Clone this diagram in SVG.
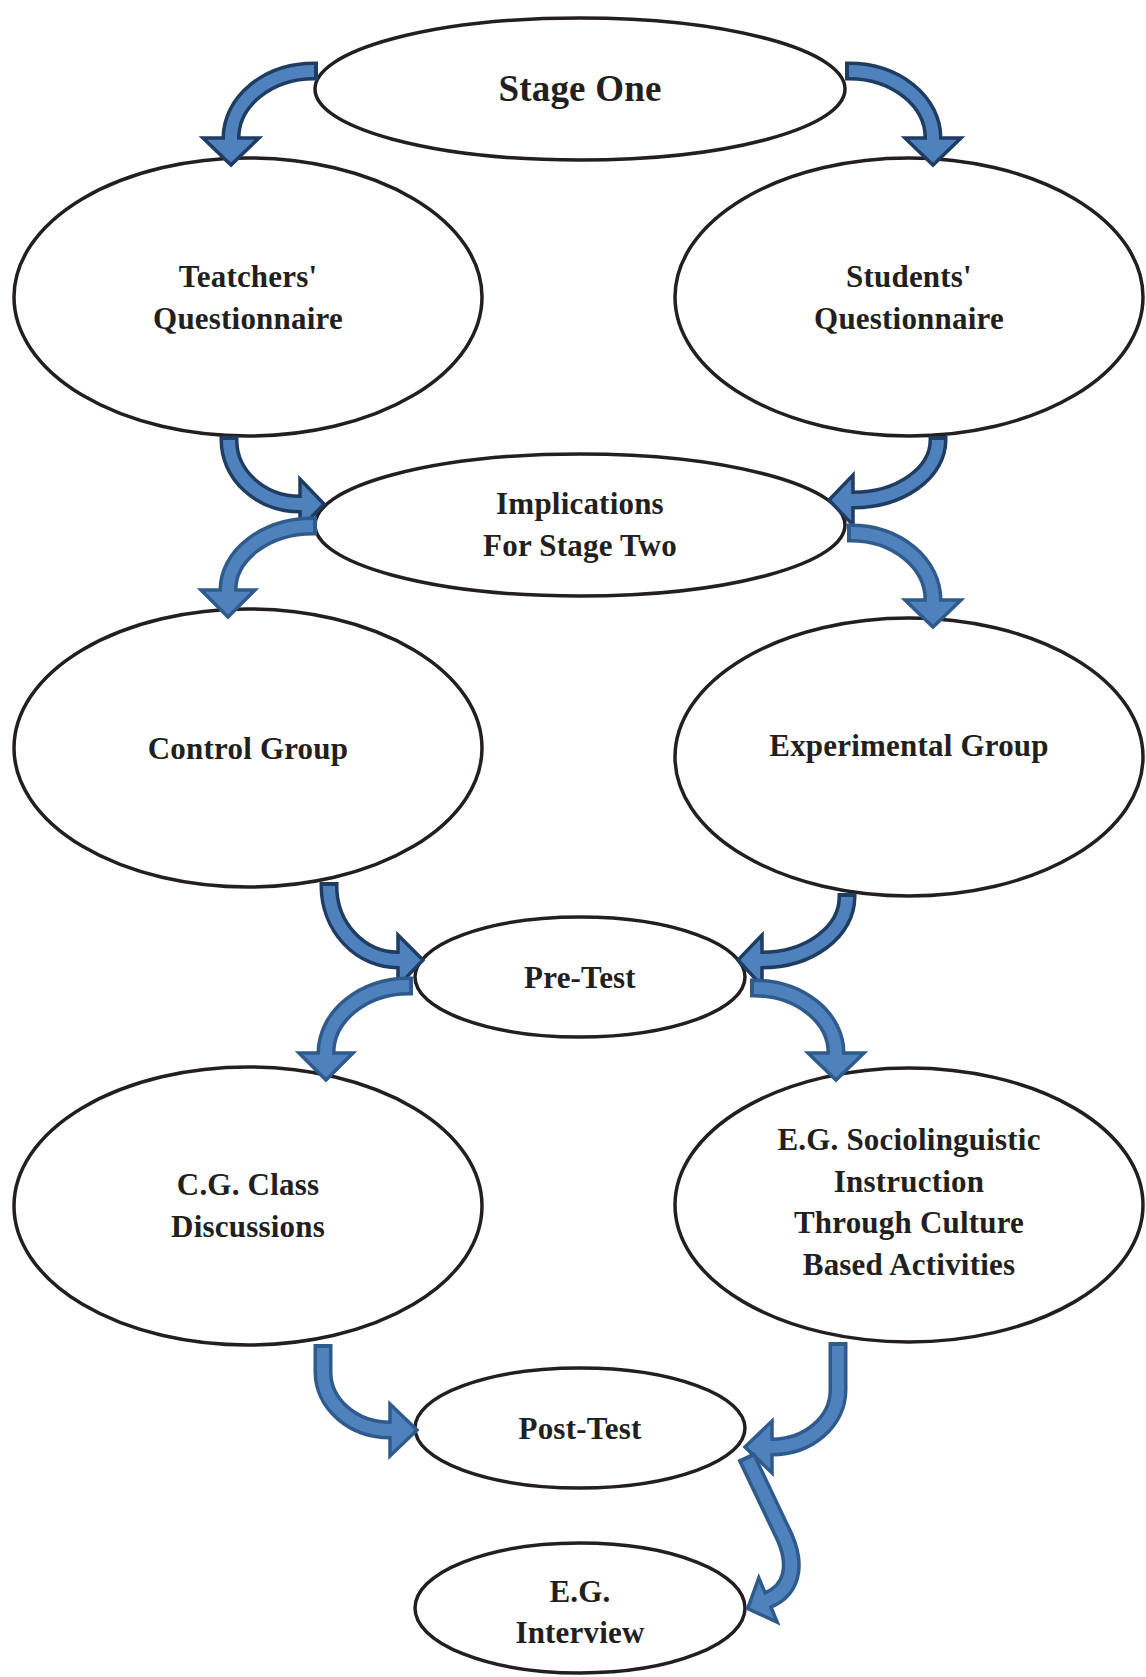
<svg xmlns="http://www.w3.org/2000/svg" width="1146" height="1677" viewBox="0 0 1146 1677">
<style>
.node ellipse{fill:#fff;stroke:#231f20;stroke-width:3.5}
.node text{font-family:"Liberation Serif","Times New Roman",serif;font-weight:bold;font-size:31px;fill:#231f20;text-anchor:middle;letter-spacing:0.2px}
.o1{fill:none;stroke:#1f3d63;stroke-width:19}
.o2{fill:none;stroke:#2f5b8c;stroke-width:19}
.in{fill:none;stroke:#4f81bd;stroke-width:12}
.h1{fill:#4f81bd;stroke:#1f3d63;stroke-width:3.5;stroke-linejoin:miter}
.h2{fill:#4f81bd;stroke:#2f5b8c;stroke-width:3.5;stroke-linejoin:miter}
</style>
<rect width="1146" height="1677" fill="#fff"/>
<g id="stage-one" class="node"><ellipse cx="580" cy="89" rx="265" ry="71"/><text x="580" y="101" style="font-size:37px">Stage One</text></g>
<g id="teachers-questionnaire" class="node"><ellipse cx="248" cy="297" rx="234" ry="139"/><text x="248" y="287">Teatchers'</text><text x="248" y="329">Questionnaire</text></g>
<g id="students-questionnaire" class="node"><ellipse cx="909" cy="297" rx="234" ry="139"/><text x="909" y="287">Students'</text><text x="909" y="329">Questionnaire</text></g>
<g id="implications" class="node"><ellipse cx="580" cy="525" rx="265" ry="71"/><text x="580" y="514">Implications</text><text x="580" y="556">For Stage Two</text></g>
<g id="control-group" class="node"><ellipse cx="248" cy="748" rx="234" ry="139"/><text x="248" y="759">Control Group</text></g>
<g id="experimental-group" class="node"><ellipse cx="909" cy="757" rx="234" ry="139"/><text x="909" y="756">Experimental Group</text></g>
<g id="pre-test" class="node"><ellipse cx="580" cy="977" rx="165" ry="60"/><text x="580" y="988">Pre-Test</text></g>
<g id="cg-class" class="node"><ellipse cx="248" cy="1206" rx="234" ry="139"/><text x="248" y="1195">C.G. Class</text><text x="248" y="1237">Discussions</text></g>
<g id="eg-instruction" class="node"><ellipse cx="909" cy="1205" rx="234" ry="137"/><text x="909" y="1150">E.G. Sociolinguistic</text><text x="909" y="1192">Instruction</text><text x="909" y="1233">Through Culture</text><text x="909" y="1275">Based Activities</text></g>
<g id="post-test" class="node"><ellipse cx="580" cy="1428" rx="165" ry="60"/><text x="580" y="1439">Post-Test</text></g>
<g id="eg-interview" class="node"><ellipse cx="580" cy="1608" rx="165" ry="65"/><text x="580" y="1602">E.G.</text><text x="580" y="1643">Interview</text></g>
<g id="connectors">
<!-- A -->
<path class="o1" d="M318 71 L314 71 A83 67 0 0 0 231 138 L231 141"/>
<polygon class="h1" points="203,138 259,138 231,165"/>
<path class="in" d="M314 71 A83 67 0 0 0 231 138 L231 142"/>
<!-- B -->
<path class="o1" d="M845 71 L849 71 A84 67 0 0 1 933 138 L933 141"/>
<polygon class="h1" points="905,138 961,138 933,165"/>
<path class="in" d="M849 71 A84 67 0 0 1 933 138 L933 142"/>
<!-- C -->
<path class="o1" d="M229 436 L229 440 A71 64 0 0 0 300 504 L303 504"/>
<polygon class="h1" points="300,479 300,529 324,504"/>
<path class="in" d="M229 440 A71 64 0 0 0 300 504 L304 504"/>
<!-- E -->
<path class="o1" d="M938 436 L938 440 A85 60 0 0 1 853 500 L850 500"/>
<polygon class="h1" points="853,475 853,525 829,500"/>
<path class="in" d="M938 440 A85 60 0 0 1 853 500 L849 500"/>
<!-- D -->
<path class="o2" d="M317 526 L313 526 A85 64 0 0 0 228 590 L228 593"/>
<polygon class="h2" points="201,590 255,590 228,617"/>
<path class="in" d="M313 526 A85 64 0 0 0 228 590 L228 594"/>
<!-- F -->
<path class="o2" d="M847 533 L851 533 A82 67 0 0 1 933 600 L933 603"/>
<polygon class="h2" points="905,600 961,600 933,627"/>
<path class="in" d="M851 533 A82 67 0 0 1 933 600 L933 604"/>
<!-- G -->
<path class="o1" d="M329 882 L329 886 A69 74 0 0 0 398 960 L401 960"/>
<polygon class="h1" points="398,935 398,986 423,960"/>
<path class="in" d="M329 886 A69 74 0 0 0 398 960 L402 960"/>
<!-- I -->
<path class="o1" d="M847 893 L847 897 A85 63 0 0 1 762 960 L759 960"/>
<polygon class="h1" points="762,935 762,986 738,960"/>
<path class="in" d="M847 897 A85 63 0 0 1 762 960 L758 960"/>
<!-- H -->
<path class="o2" d="M413 986 L409 986 A83 67 0 0 0 326 1053 L326 1056"/>
<polygon class="h2" points="299,1053 353,1053 326,1080"/>
<path class="in" d="M409 986 A83 67 0 0 0 326 1053 L326 1057"/>
<!-- J -->
<path class="o2" d="M750 988 L754 988 A82 65 0 0 1 836 1053 L836 1056"/>
<polygon class="h2" points="808,1053 864,1053 836,1080"/>
<path class="in" d="M754 988 A82 65 0 0 1 836 1053 L836 1057"/>
<!-- K -->
<path class="o2" d="M323 1344 L323 1372 A67 58 0 0 0 390 1430 L393 1430"/>
<polygon class="h2" points="390,1404 390,1456 417,1430"/>
<path class="in" d="M323 1348 L323 1372 A67 58 0 0 0 390 1430 L394 1430"/>
<!-- L -->
<path class="o2" d="M838 1342 L838 1390 A66 57 0 0 1 772 1447 L769 1447"/>
<polygon class="h2" points="772,1421 772,1473 745,1447"/>
<path class="in" d="M838 1346 L838 1390 A66 57 0 0 1 772 1447 L768 1447"/>
<!-- M -->
<path class="o2" d="M746 1456 L785 1538 C797 1566 792 1590 768 1600 L765 1601.2"/>
<polygon class="h2" points="777.2,1622.2 758.8,1577.8 747.7,1608.5"/>
<path class="in" d="M747.8 1459.6 L785 1538 C797 1566 792 1590 768 1600 L764.3 1601.5"/>
</g>
</svg>
